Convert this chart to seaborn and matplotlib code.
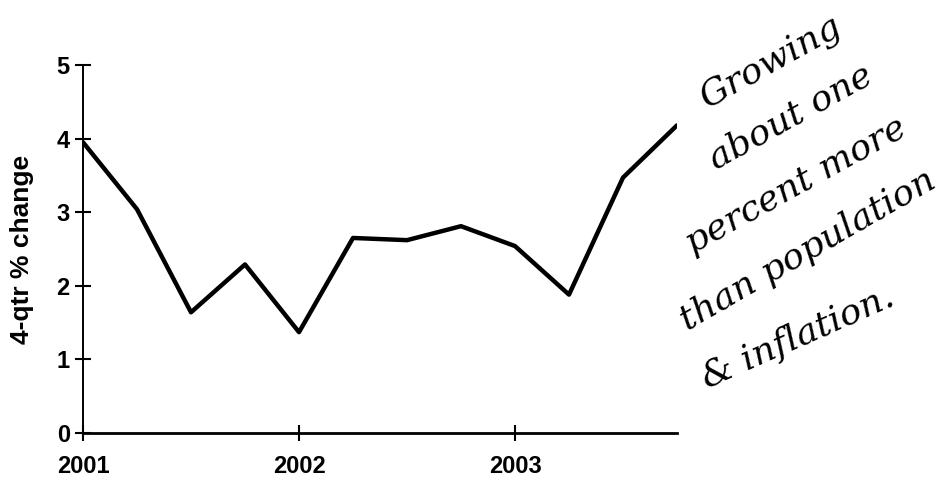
import matplotlib
matplotlib.use("Agg")
import matplotlib.pyplot as plt
import seaborn as sns
import pandas as pd

# Data
quarters = [2001.0, 2001.25, 2001.5, 2001.75, 2002.0, 2002.25, 2002.5, 2002.75,
            2003.0, 2003.25, 2003.5, 2003.75]
pct_change = [3.95, 3.04, 1.64, 2.29, 1.37, 2.65, 2.62, 2.81, 2.54, 1.88, 3.47, 4.18]
x_ticks = [2001, 2002, 2003]
x_tick_labels = ["2001", "2002", "2003"]
y_ticks = [0, 1, 2, 3, 4, 5]
y_label = "4-qtr % change"
note_lines = ["Growing", "about one", "percent more", "than population", "& inflation."]

df = pd.DataFrame({"quarter": quarters, "pct": pct_change})

sns.set_theme(style="white")
plt.rcParams["font.family"] = ["Liberation Sans", "DejaVu Sans"]

fig = plt.figure(figsize=(9.47, 4.86), dpi=100)
ax = fig.add_axes([83 / 947, 53 / 486, (677 - 83) / 947, (433 - 65) / 486])

sns.lineplot(data=df, x="quarter", y="pct", ax=ax, color="black", linewidth=3.2)

ax.set_xlim(2001, 2003.75)
ax.set_ylim(0, 5)
ax.set_xticks(x_ticks)
ax.set_xticklabels(x_tick_labels)
ax.set_yticks(y_ticks)
ax.set_xlabel("")
ax.set_ylabel(y_label, fontsize=19, fontweight="bold", labelpad=16, color="black")

for side in ["top", "right"]:
    ax.spines[side].set_visible(False)
for side in ["left", "bottom"]:
    ax.spines[side].set_color("black")
ax.spines["bottom"].set_linewidth(2.0)
ax.spines["left"].set_linewidth(1.4)

ax.tick_params(axis="both", direction="inout", length=11, width=1.5, colors="black",
               labelsize=17, bottom=True, left=True, labelcolor="black")
ax.tick_params(axis="x", pad=10)
ax.tick_params(axis="y", pad=4)
for lbl in ax.get_xticklabels() + ax.get_yticklabels():
    lbl.set_fontweight("bold")

# handwritten-style note, one line at a time (pixel centres and angles)
note_layout = [(770, 62, 29), (790, 117, 29), (796, 185, 29), (808, 250, 30), (798, 337, 24)]
for text, (px, py, ang) in zip(note_lines, note_layout):
    fig.text(px / 947, 1 - py / 486, text, rotation=ang, ha="center", va="center",
             fontsize=26, family=["DejaVu Serif", "Liberation Serif"], style="italic",
             color="black", rotation_mode="anchor")

fig.savefig("out.png", dpi=100)
